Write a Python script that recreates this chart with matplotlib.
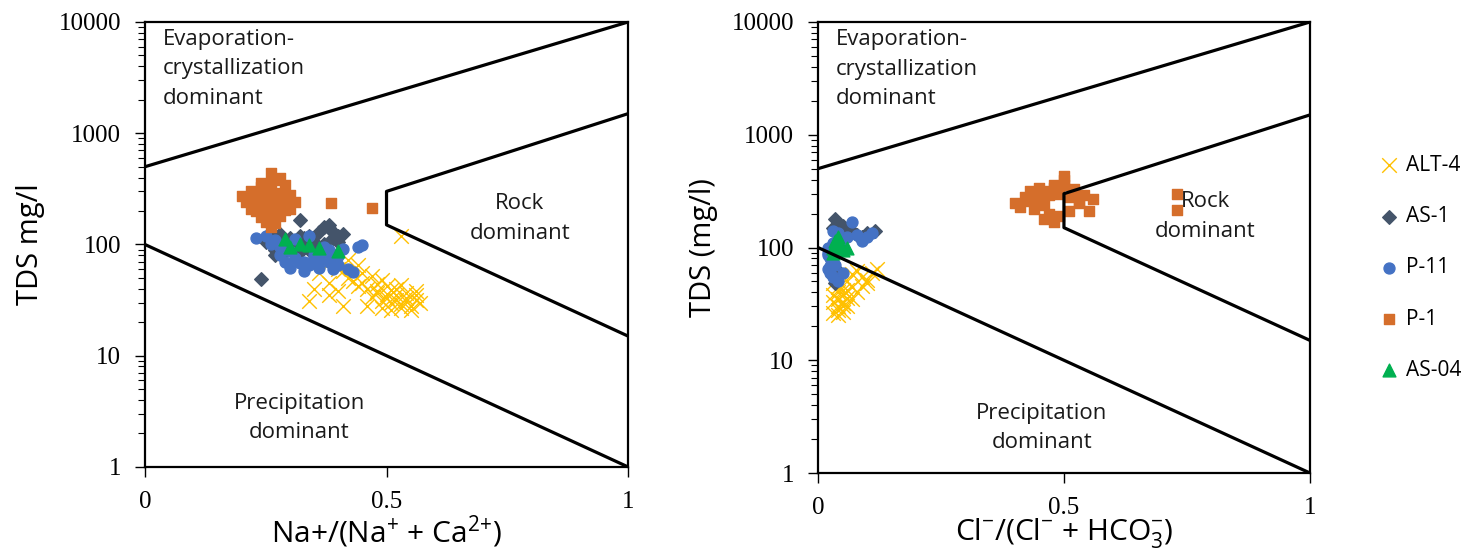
import matplotlib.pyplot as plt
import numpy as np

SANS = ['Open Sans', 'DejaVu Sans']
SERIF = 'Liberation Serif'

plt.rcParams['mathtext.fontset'] = 'custom'
plt.rcParams['mathtext.rm'] = 'Open Sans'
plt.rcParams['mathtext.it'] = 'Open Sans'
plt.rcParams['mathtext.bf'] = 'Open Sans'

# Marker styles per series
STYLE = {
    'ALT-4': dict(marker='x', color='#FFC000', s=110, linewidths=1.0),
    'AS-1': dict(marker='D', color='#44546A', s=48),
    'P-11': dict(marker='o', color='#4472C4', s=62),
    'P-1': dict(marker='s', color='#D56E2B', s=60),
    'AS-04': dict(marker='^', color='#00B050', s=85),
}

# ---- Left panel data: Na+/(Na+ + Ca2+) vs TDS ----
alt4_na = [0.46, 0.48, 0.50, 0.52, 0.54, 0.56, 0.47, 0.49, 0.51, 0.53, 0.55, 0.57, 0.45, 0.48, 0.50,
           0.52, 0.54, 0.56, 0.46, 0.49, 0.51, 0.53, 0.55, 0.50, 0.52, 0.54, 0.48, 0.51, 0.53, 0.56,
           0.34, 0.36, 0.38, 0.40, 0.42, 0.44, 0.37, 0.39, 0.41, 0.43, 0.45, 0.35, 0.40, 0.42, 0.44,
           0.47, 0.49, 0.38, 0.41, 0.53]
alt4_na_tds = [40, 38, 36, 35, 33, 32, 34, 31, 30, 29, 28, 30, 45, 44, 42,
               40, 37, 35, 28, 27, 26, 27, 26, 33, 32, 31, 37, 39, 43, 38,
               31, 55, 45, 60, 50, 42, 68, 75, 58, 47, 55, 40, 38, 72, 65,
               52, 48, 35, 28, 118]

as1_na = [0.25, 0.26, 0.27, 0.28, 0.29, 0.30, 0.31, 0.32, 0.33, 0.34, 0.35, 0.36, 0.37, 0.38, 0.39,
          0.40, 0.41, 0.27, 0.29, 0.31, 0.33, 0.35, 0.37, 0.39, 0.26, 0.28, 0.30, 0.32, 0.34, 0.36,
          0.38, 0.40, 0.32, 0.24]
as1_na_tds = [105, 120, 90, 125, 100, 110, 95, 165, 115, 120, 105, 130, 145, 150, 115,
              120, 125, 80, 85, 90, 100, 95, 100, 130, 130, 110, 115, 85, 90, 80,
              140, 105, 118, 49]

p11_na = [0.23, 0.25, 0.26, 0.28, 0.30, 0.31, 0.33, 0.34, 0.35, 0.36, 0.37, 0.38, 0.39, 0.40, 0.41,
          0.43, 0.45, 0.27, 0.29, 0.32, 0.34, 0.36, 0.38, 0.40, 0.28, 0.30, 0.33, 0.35, 0.37, 0.39,
          0.42, 0.31, 0.44]
p11_na_tds = [115, 118, 100, 95, 88, 75, 70, 65, 80, 72, 85, 70, 60, 78, 92,
              56, 98, 110, 70, 68, 120, 62, 90, 65, 80, 62, 58, 75, 95, 82,
              60, 112, 95]

p1_na = [0.20, 0.22, 0.24, 0.26, 0.28, 0.30, 0.21, 0.23, 0.25, 0.27, 0.29, 0.31, 0.22, 0.24, 0.26,
         0.28, 0.30, 0.23, 0.25, 0.27, 0.29, 0.24, 0.26, 0.28, 0.25, 0.27, 0.26, 0.27, 0.25, 0.28,
         0.26, 0.24, 0.29, 0.385, 0.47]
p1_na_tds = [270, 300, 330, 310, 290, 280, 240, 260, 270, 250, 260, 240, 210, 230, 220,
             230, 210, 200, 190, 195, 205, 175, 170, 180, 160, 155, 440, 380, 350, 400,
             145, 360, 340, 236, 213]

as04_na = [0.29, 0.30, 0.32, 0.34, 0.36, 0.40]
as04_na_tds = [112, 95, 100, 98, 93, 88]

# ---- Right panel data: Cl-/(Cl- + HCO3-) vs TDS ----
alt4_cl = [0.03, 0.04, 0.05, 0.03, 0.04, 0.05, 0.06, 0.03, 0.04, 0.05, 0.06, 0.04, 0.05, 0.03, 0.04,
           0.06, 0.07, 0.08, 0.09, 0.10, 0.11, 0.07, 0.08, 0.09, 0.10, 0.12, 0.06, 0.07, 0.05, 0.04]
alt4_cl_tds = [26, 28, 30, 33, 35, 32, 36, 38, 40, 42, 30, 45, 27, 48, 25,
               50, 45, 40, 55, 48, 60, 58, 62, 46, 52, 65, 42, 35, 38, 30]

as1_cl = [0.035, 0.04, 0.05, 0.06, 0.07, 0.08, 0.09, 0.10, 0.116, 0.04, 0.05, 0.06, 0.035, 0.045,
          0.05, 0.03, 0.04]
as1_cl_tds = [180, 165, 150, 145, 140, 130, 125, 135, 140, 120, 155, 130, 48, 60,
              130, 150, 110]

p11_cl = [0.02, 0.025, 0.03, 0.035, 0.02, 0.025, 0.03, 0.04, 0.05, 0.02, 0.03, 0.04, 0.06, 0.08,
          0.09, 0.10, 0.07, 0.03, 0.04, 0.02, 0.03, 0.025, 0.045, 0.11]
p11_cl_tds = [90, 80, 75, 70, 65, 60, 55, 50, 60, 100, 110, 120, 125, 130,
              115, 125, 170, 140, 135, 85, 95, 68, 105, 135]

p1_cl = [0.40, 0.42, 0.44, 0.46, 0.48, 0.50, 0.52, 0.54, 0.56, 0.41, 0.43, 0.45, 0.47, 0.49, 0.51,
         0.53, 0.55, 0.44, 0.46, 0.48, 0.50, 0.52, 0.47, 0.49, 0.51, 0.45, 0.53, 0.48, 0.50, 0.43,
         0.46, 0.73, 0.73]
p1_cl_tds = [250, 280, 300, 320, 340, 360, 310, 290, 270, 230, 260, 270, 290, 300, 280,
             250, 210, 220, 240, 360, 400, 330, 200, 190, 210, 340, 260, 170, 430, 320,
             180, 300, 215]

as04_cl = [0.03, 0.035, 0.04, 0.045, 0.05, 0.06, 0.03, 0.04]
as04_cl_tds = [100, 115, 125, 105, 95, 100, 90, 110]

# Gibbs diagram boundaries
upper_x, upper_y = [0, 1], [500, 10000]
lower_x, lower_y = [0, 1], [100, 1]
rock_x, rock_y = [1, 0.5, 0.5, 1], [1500, 300, 150, 15]

yticks = [1, 10, 100, 1000, 10000]
xticks = [0, 0.5, 1]

fig = plt.figure(figsize=(14.73, 5.5), dpi=100)
ax1 = fig.add_axes([0.0984, 0.151, 0.328, 0.809])
ax2 = fig.add_axes([0.5553, 0.140, 0.334, 0.820])

panels = [
    (ax1, [(alt4_na, alt4_na_tds, 'ALT-4'), (as1_na, as1_na_tds, 'AS-1'), (p11_na, p11_na_tds, 'P-11'),
           (p1_na, p1_na_tds, 'P-1'), (as04_na, as04_na_tds, 'AS-04')]),
    (ax2, [(alt4_cl, alt4_cl_tds, 'ALT-4'), (as1_cl, as1_cl_tds, 'AS-1'), (p11_cl, p11_cl_tds, 'P-11'),
           (p1_cl, p1_cl_tds, 'P-1'), (as04_cl, as04_cl_tds, 'AS-04')]),
]

TXT = dict(fontsize=16, family=SANS, linespacing=1.55, color='#1a1a1a')

for ax, series in panels:
    for x, y, name in series:
        ax.scatter(x, y, label=name, zorder=3, **STYLE[name])
    for bx, by in [(upper_x, upper_y), (lower_x, lower_y), (rock_x, rock_y)]:
        ax.plot(bx, by, color='black', lw=2.3, zorder=4, solid_capstyle='butt')
    ax.set_yscale('log')
    ax.set_ylim(1, 10000)
    ax.set_xlim(0, 1)
    ax.set_xticks(xticks)
    ax.set_xticklabels(['0', '0.5', '1'])
    ax.set_yticks(yticks)
    ax.set_yticklabels([str(v) for v in yticks])
    ax.tick_params(axis='both', which='major', direction='out', length=7, width=1, pad=10,
                   labelsize=18)
    ax.tick_params(axis='y', which='minor', direction='out', length=5, width=0.8)
    for lab in ax.get_xticklabels() + ax.get_yticklabels():
        lab.set_fontfamily(SERIF)
    for sp in ax.spines.values():
        sp.set_linewidth(1.6)
    ax.text(0.037, 0.985, 'Evaporation-\ncrystallization\ndominant', transform=ax.transAxes,
            ha='left', va='top', **TXT)

ax1.text(0.776, 0.558, 'Rock\ndominant', transform=ax1.transAxes, ha='center', va='center', **TXT)
ax2.text(0.787, 0.568, 'Rock\ndominant', transform=ax2.transAxes, ha='center', va='center', **TXT)
ax1.text(0.32, 0.110, 'Precipitation\ndominant', transform=ax1.transAxes, ha='center', va='center', **TXT)
ax2.text(0.455, 0.100, 'Precipitation\ndominant', transform=ax2.transAxes, ha='center', va='center', **TXT)

ax1.set_ylabel('TDS mg/l', fontsize=21, family=SANS, labelpad=10)
ax2.set_ylabel('TDS (mg/l)', fontsize=21, family=SANS, labelpad=10)
ax1.set_xlabel(r'Na+/(Na$^{{+}}$ + Ca$^{2{+}}$)', fontsize=21.5, family=SANS, labelpad=1)
ax2.set_xlabel(r'Cl$^{-}$/(Cl$^{-}$ + HCO$_{3}^{-}$)', fontsize=21.5, family=SANS, labelpad=-2)

handles, labels = ax2.get_legend_handles_labels()
fig.legend(handles, labels, loc='center left', bbox_to_anchor=(0.922, 0.513), frameon=False,
           prop={'family': SANS, 'size': 15}, labelspacing=1.45, handletextpad=0.2,
           handlelength=1.2, scatterpoints=1)

plt.savefig('out.png', dpi=100)
